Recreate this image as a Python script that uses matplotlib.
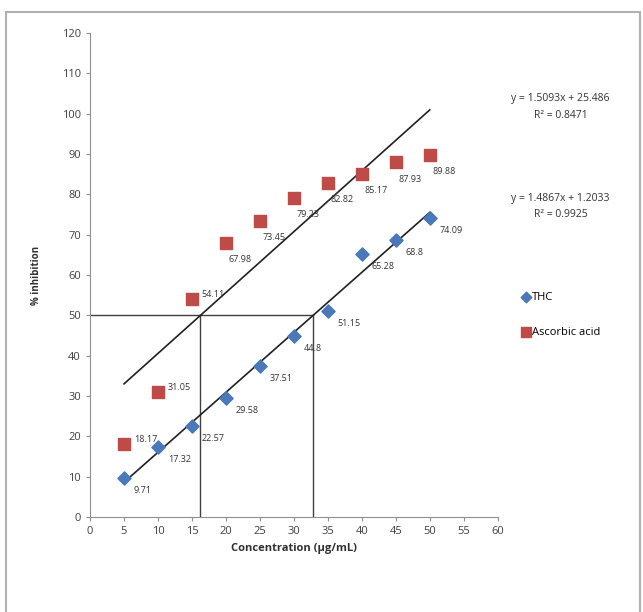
import matplotlib.pyplot as plt
from matplotlib.patches import Rectangle

conc = [5, 10, 15, 20, 25, 30, 35, 40, 45, 50]
thc = [9.71, 17.32, 22.57, 29.58, 37.51, 44.8, 51.15, 65.28, 68.8, 74.09]
ascorbic = [18.17, 31.05, 54.11, 67.98, 73.45, 79.23, 82.82, 85.17, 87.93, 89.88]

# trendlines (as reported on the chart)
thc_fit = (1.4867, 1.2033, 0.9925)
asc_fit = (1.5093, 25.486, 0.8471)

plt.rcParams['font.family'] = ['Open Sans', 'DejaVu Sans']

fig = plt.figure(figsize=(6.43, 6.12), dpi=100)
fig.patches.append(Rectangle((0.01, -0.02), 0.985, 1.0, transform=fig.transFigure,
                             fill=False, edgecolor='#b0b0b0', linewidth=1.5))
ax = fig.add_axes([0.14, 0.155, 0.634, 0.791])

blue = '#4a78b8'
red = '#be4b48'

# trendlines
for (m, c, r2) in (asc_fit, thc_fit):
    xs = [conc[0], conc[-1]]
    ax.plot(xs, [m * x + c for x in xs], color='#202020', lw=1.2, zorder=2)

# IC50 guide lines
x_asc = (50 - asc_fit[1]) / asc_fit[0]
x_thc = (50 - thc_fit[1]) / thc_fit[0]
ax.plot([0, x_thc], [50, 50], color='#404040', lw=1.0, zorder=1)
ax.plot([x_asc, x_asc], [0, 50], color='#404040', lw=1.0, zorder=1)
ax.plot([x_thc, x_thc], [0, 50], color='#404040', lw=1.0, zorder=1)

ax.scatter(conc, thc, marker='D', s=45, color=blue, zorder=3, label='THC')
ax.scatter(conc, ascorbic, marker='s', s=80, color=red, zorder=3, label='Ascorbic acid')

for x, y in zip(conc, thc):
    ax.annotate(f'{y:g}', (x, y), xytext=(7, -9), textcoords='offset points',
                fontsize=6.5, color='#333333', ha='left', va='center')
for i, (x, y) in enumerate(zip(conc, ascorbic)):
    off = (7, 3) if i < 3 else (2, -12)
    ax.annotate(f'{y:g}', (x, y), xytext=off, textcoords='offset points',
                fontsize=6.5, color='#333333', ha='left', va='center')

ax.set_xlim(0, 60)
ax.set_ylim(0, 120)
ax.set_xticks(range(0, 61, 5))
ax.set_yticks(range(0, 121, 10))
ax.tick_params(labelsize=8, colors='#404040', length=3, color='#909090')
for s in ('top', 'right'):
    ax.spines[s].set_visible(False)
for s in ('left', 'bottom'):
    ax.spines[s].set_color('#909090')

ax.set_xlabel('Concentration (µg/mL)', fontsize=8, fontweight='bold', color='#303030')
ax.set_ylabel('% inhibition', fontsize=7, fontweight='bold', color='#303030', labelpad=14)

fig.text(0.872, 0.835, f'y = {asc_fit[0]}x + {asc_fit[1]}', fontsize=7.5, ha='center', color='#333333')
fig.text(0.872, 0.808, f'R² = {asc_fit[2]}', fontsize=7.5, ha='center', color='#333333')
fig.text(0.872, 0.672, f'y = {thc_fit[0]}x + {thc_fit[1]}', fontsize=7.5, ha='center', color='#333333')
fig.text(0.872, 0.645, f'R² = {thc_fit[2]}', fontsize=7.5, ha='center', color='#333333')

fig.legend(loc='upper left', bbox_to_anchor=(0.795, 0.54), frameon=False, fontsize=8,
           handletextpad=0.2, labelspacing=2.2, handlelength=0.8, scatterpoints=1,
           markerscale=0.8)

fig.savefig('out.png', dpi=100)
